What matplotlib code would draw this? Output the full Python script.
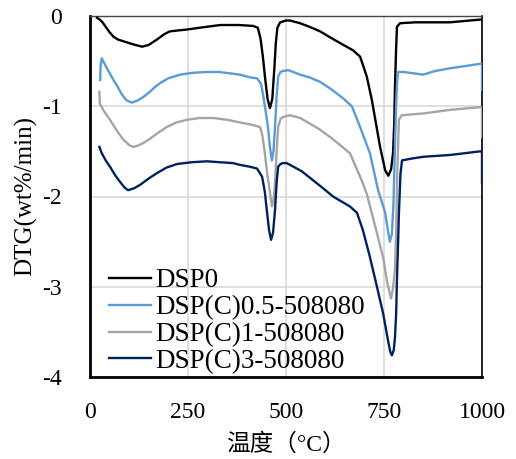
import matplotlib
matplotlib.use("Agg")
import matplotlib.pyplot as plt

plt.rcParams['font.family'] = ['Liberation Serif', 'Noto Sans CJK SC']
plt.rcParams['axes.unicode_minus'] = False

labels = ["DSP0", "DSP(C)0.5-508080", "DSP(C)1-508080", "DSP(C)3-508080"]
colors = ["#000000", "#5B9BD5", "#A5A5A5", "#002060"]

x_dsp0 = [18, 25, 32, 40, 50, 60, 71, 85, 100, 115, 133, 150, 171, 190, 204, 225, 247, 280, 332, 380, 416,
          428, 435, 441, 447, 453, 459, 465, 470, 474, 478, 485, 500, 510, 536, 560, 587, 610, 638, 671, 689,
          706, 719, 740, 753, 761, 768, 773, 776, 778, 781, 783, 791, 830, 918, 995, 1000]
y_dsp0 = [-0.02, -0.04, -0.07, -0.12, -0.18, -0.23, -0.26, -0.28, -0.30, -0.32, -0.34, -0.32, -0.26, -0.20,
          -0.17, -0.16, -0.15, -0.13, -0.10, -0.10, -0.11, -0.13, -0.25, -0.45, -0.70, -0.92, -1.02, -0.92,
          -0.60, -0.30, -0.13, -0.07, -0.05, -0.05, -0.08, -0.12, -0.17, -0.23, -0.30, -0.38, -0.45, -0.67,
          -0.93, -1.45, -1.71, -1.77, -1.70, -1.52, -1.20, -0.78, -0.35, -0.12, -0.08, -0.07, -0.07, -0.04,
          -0.04]

x_c05 = [26, 27, 30, 36, 42, 51, 60, 70, 80, 92, 106, 120, 135, 150, 165, 180, 200, 230, 260, 298, 330, 365,
         383, 408, 426, 436, 441, 448, 454, 459, 464, 468, 472, 476, 480, 486, 492, 506, 536, 560, 587, 615,
         645, 668, 689, 714, 735, 753, 760, 765, 770, 774, 777, 780, 783, 786, 800, 834, 850, 880, 918, 995,
         1000, 1000]
y_c05 = [-0.71, -0.55, -0.47, -0.52, -0.57, -0.64, -0.71, -0.78, -0.86, -0.93, -0.96, -0.94, -0.90, -0.85,
         -0.79, -0.74, -0.69, -0.65, -0.63, -0.62, -0.62, -0.64, -0.65, -0.68, -0.69, -0.75, -0.86, -1.05,
         -1.23, -1.45, -1.60, -1.50, -1.23, -0.90, -0.67, -0.62, -0.61, -0.60, -0.65, -0.68, -0.73, -0.81,
         -0.91, -1.00, -1.23, -1.52, -1.93, -2.18, -2.38, -2.50, -2.42, -2.10, -1.60, -1.10, -0.75, -0.62,
         -0.62, -0.64, -0.65, -0.61, -0.58, -0.53, -0.53, -0.82]

x_c1 = [24, 25, 35, 51, 70, 85, 100, 110, 120, 135, 153, 175, 196, 220, 247, 280, 315, 350, 383, 408, 434,
        440, 446, 452, 457, 464, 468, 472, 476, 480, 486, 492, 510, 536, 560, 587, 615, 638, 663, 693, 706,
        730, 748, 758, 768, 773, 778, 781, 784, 788, 795, 850, 918, 995, 1000, 1000]
y_c1 = [-0.84, -0.97, -1.05, -1.15, -1.28, -1.37, -1.43, -1.45, -1.44, -1.41, -1.36, -1.29, -1.23, -1.18,
        -1.15, -1.13, -1.13, -1.15, -1.18, -1.20, -1.23, -1.33, -1.52, -1.75, -1.89, -2.11, -2.05, -1.85,
        -1.50, -1.23, -1.14, -1.12, -1.10, -1.13, -1.19, -1.26, -1.35, -1.43, -1.52, -1.82, -1.97, -2.37,
        -2.68, -2.95, -3.13, -3.02, -2.80, -2.40, -1.70, -1.15, -1.10, -1.08, -1.04, -1.01, -1.01, -1.34]

x_c3 = [24, 30, 40, 51, 65, 77, 88, 97, 112, 128, 150, 171, 195, 222, 260, 298, 330, 365, 383, 408, 426, 439,
        446, 451, 457, 462, 467, 472, 476, 480, 486, 492, 502, 540, 569, 595, 620, 663, 681, 696, 714, 732,
        748, 760, 766, 770, 775, 778, 781, 783, 786, 788, 792, 796, 820, 850, 918, 995, 1000, 1000]
y_c3 = [-1.45, -1.52, -1.60, -1.67, -1.77, -1.84, -1.90, -1.93, -1.91, -1.87, -1.80, -1.74, -1.68, -1.64,
        -1.62, -1.61, -1.62, -1.63, -1.65, -1.67, -1.69, -1.78, -1.95, -2.15, -2.38, -2.48, -2.40, -2.15,
        -1.85, -1.67, -1.64, -1.63, -1.63, -1.72, -1.82, -1.91, -2.00, -2.11, -2.18, -2.37, -2.67, -3.00,
        -3.30, -3.59, -3.72, -3.76, -3.70, -3.56, -3.30, -2.93, -2.50, -2.19, -1.75, -1.60, -1.58, -1.56,
        -1.54, -1.50, -1.50, -1.85]

x_ticks = [0, 250, 500, 750, 1000]
y_ticks = [0, -1, -2, -3, -4]

fig = plt.figure(figsize=(5.16, 4.59), dpi=100)
ax = fig.add_axes([90/516, 1-377/459, (482-90)/516, (377-16)/459])

series = [(x_dsp0, y_dsp0), (x_c05, y_c05), (x_c1, y_c1), (x_c3, y_c3)]
for (xs, ys), lab, c in zip(series, labels, colors):
    ax.plot(xs, ys, color=c, lw=1.7, label=lab, zorder=3, solid_joinstyle='round')

ax.set_xlim(0, 1000)
ax.set_ylim(-4, 0)
ax.set_xticks(x_ticks)
ax.set_yticks(y_ticks)
ax.set_xticklabels([str(v) for v in x_ticks])
ax.set_yticklabels([str(v) for v in y_ticks])
ax.tick_params(length=0, labelsize=17)
ax.tick_params(axis='y', pad=20)
ax.tick_params(axis='x', pad=18)
ax.grid(True, color="#D9D9D9", lw=1.2, zorder=0)

for s in ['left', 'bottom']:
    ax.spines[s].set_linewidth(2.0)
    ax.spines[s].set_color('black')
ax.spines['right'].set_linewidth(1.2)
ax.spines['top'].set_linewidth(1.0)
ax.spines['top'].set_color('#444444')

ax.set_ylabel("DTG(wt%/min)", fontsize=18, labelpad=4)
ax.set_xlabel("温度（°C）", fontsize=17, labelpad=7)

leg = ax.legend(loc='lower left', bbox_to_anchor=(0.0, -0.044), frameon=False, fontsize=19.5,
                handlelength=1.55, handletextpad=0.15, labelspacing=0.07, borderaxespad=0.3)

fig.savefig("out.png", dpi=100)
